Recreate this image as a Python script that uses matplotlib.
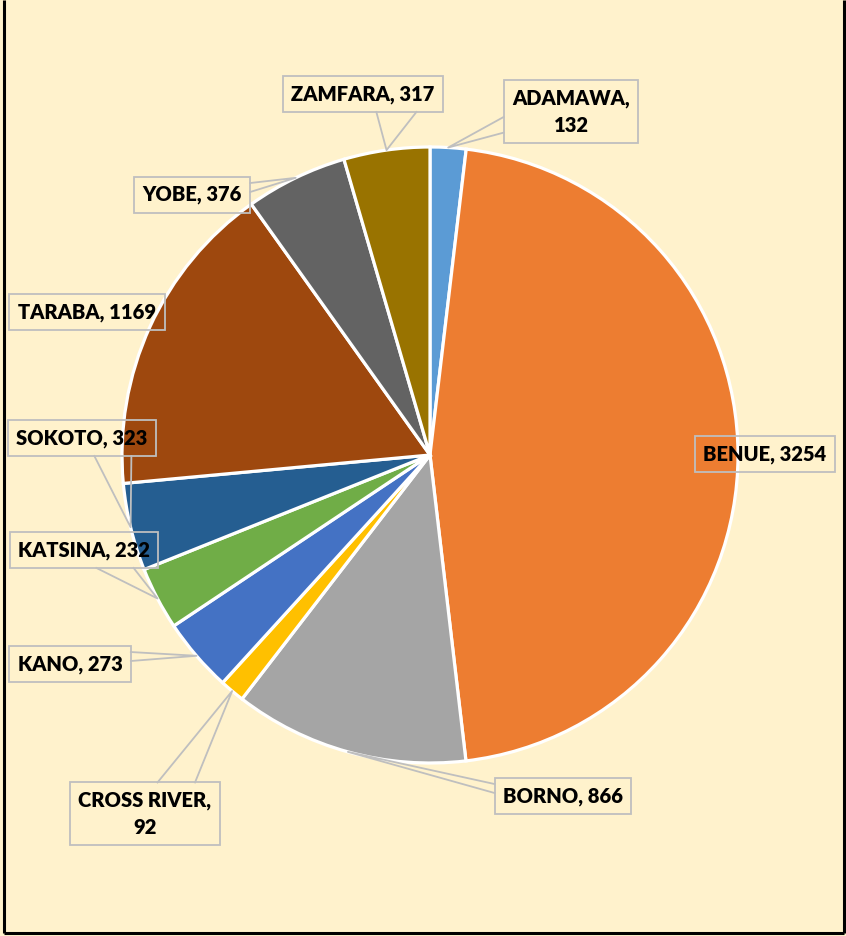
import matplotlib.pyplot as plt
import numpy as np

# данные
states = ['ADAMAWA', 'BENUE', 'BORNO', 'CROSS RIVER', 'KANO',
          'KATSINA', 'SOKOTO', 'TARABA', 'YOBE', 'ZAMFARA']
values = [132, 3254, 866, 92, 273, 232, 323, 1169, 376, 317]
colors = ['#5B9BD5', '#ED7D31', '#A5A5A5', '#FFC000', '#4472C4',
          '#70AD47', '#255E91', '#9E480E', '#636363', '#997300']
label_texts = ['ADAMAWA,\n132', 'BENUE, 3254', 'BORNO, 866', 'CROSS RIVER,\n92',
               'KANO, 273', 'KATSINA, 232', 'SOKOTO, 323', 'TARABA, 1169',
               'YOBE, 376', 'ZAMFARA, 317']

W, H = 846, 936
# позиции подписей (пиксели от верхнего левого угла)
label_pos = [(571, 112), (765, 454), (563, 796), (145, 814), (70, 664),
             (84, 550), (82, 438), (87, 312), (192, 195), (363, 94)]
cx, cy, R = 430, 455, 308

bg = '#FFF2CC'
fig = plt.figure(figsize=(W / 100, H / 100), dpi=100, facecolor=bg)
ax = fig.add_axes([0, 0, 1, 1])
ax.set_xlim(0, W)
ax.set_ylim(0, H)
ax.set_aspect('equal')
ax.axis('off')

wedges, _ = ax.pie(values, colors=colors, startangle=90, counterclock=False,
                   center=(cx, H - cy), radius=R,
                   wedgeprops=dict(edgecolor='white', linewidth=2.3))
ax.set_xlim(0, W)
ax.set_ylim(0, H)

# рамка
ax.plot([4, 4], [H, H - 933], color='black', lw=2.2, solid_capstyle='butt')
ax.plot([843.5, 843.5], [H, H - 933], color='black', lw=2.2, solid_capstyle='butt')
ax.plot([4, 843.5], [H - 933, H - 933], color='black', lw=2.2, solid_capstyle='butt')

texts = []
for txt, (lx, ly) in zip(label_texts, label_pos):
    t = ax.text(lx, H - ly, txt, ha='center', va='center', multialignment='center',
                fontsize=14.5, fontweight='heavy', family='Lato', color='black',
                linespacing=1.45,
                bbox=dict(boxstyle='square,pad=0.42', facecolor='none',
                          edgecolor='#BFBFBF', linewidth=1.3))
    texts.append(t)

fig.canvas.draw()
inv = ax.transData.inverted()
total = sum(values)
cum = np.cumsum([0] + values)
for i, t in enumerate(texts):
    mid = (cum[i] + values[i] / 2) / total * 360
    ang = np.deg2rad(90 - mid)
    tipx = cx + R * np.cos(ang)
    tipy = (H - cy) + R * np.sin(ang)
    bb = t.get_bbox_patch().get_window_extent()
    (x0, y0), (x1, y1) = inv.transform([[bb.x0, bb.y0], [bb.x1, bb.y1]])
    if x0 - 3 <= tipx <= x1 + 3 and y0 - 3 <= tipy <= y1 + 3:
        continue
    bx, by = (x0 + x1) / 2, (y0 + y1) / 2
    dx, dy = tipx - bx, tipy - by
    w, h = x1 - x0, y1 - y0
    if abs(dx) / w > abs(dy) / h:
        ex = x1 if dx > 0 else x0
        f = (2 / 12, 5 / 12) if dy > 0 else (7 / 12, 10 / 12)
        p1 = (ex, y1 - f[0] * h)
        p2 = (ex, y1 - f[1] * h)
    else:
        ey = y1 if dy > 0 else y0
        f = (7 / 12, 10 / 12) if dx > 0 else (2 / 12, 5 / 12)
        p1 = (x0 + f[0] * w, ey)
        p2 = (x0 + f[1] * w, ey)
    ax.plot([p1[0], tipx, p2[0]], [p1[1], tipy, p2[1]], color='#BFBFBF', lw=1.3)

fig.savefig('out.png', dpi=100, facecolor=bg)
